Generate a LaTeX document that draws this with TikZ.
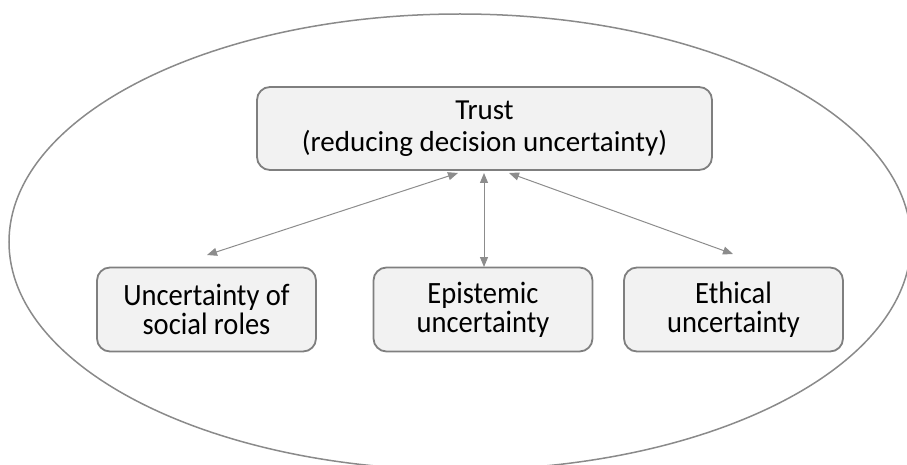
\documentclass[tikz,border=0pt]{standalone}
\usepackage{fontspec}
\setmainfont{Carlito}
\usetikzlibrary{arrows.meta}
\definecolor{boxfill}{HTML}{F2F2F2}
\definecolor{boxline}{HTML}{7F7F7F}
\definecolor{arrline}{HTML}{8C8C8C}
\definecolor{ovalline}{HTML}{8A8A8A}
\tikzset{
  topbox/.style={draw=boxline, line width=1.8pt, fill=boxfill, rounded corners=13pt,
    minimum width=455pt, minimum height=83pt, align=center, inner sep=0pt,
    font=\fontsize{29}{32}\selectfont},
  lowbox/.style={draw=boxline, line width=1.8pt, fill=boxfill, rounded corners=13pt,
    minimum width=219pt, minimum height=84pt, align=center, inner sep=0pt,
    font=\fontsize{31}{29}\selectfont},
  link/.style={draw=arrline, line width=1pt,
    {Triangle[length=10pt,width=8pt]}-{Triangle[length=10pt,width=8pt]}},
  oval/.style={draw=ovalline, line width=1.5pt}
}
\newcommand{\sq}[1]{\scalebox{0.92}[1]{#1}}
\begin{document}
\begin{tikzpicture}[x=1pt,y=-1pt]
\useasboundingbox (0,0) rectangle (907,465);
\begin{scope}
  \clip (0,0) rectangle (907,465);
  \draw[oval] (460,242) ellipse [x radius=451pt, y radius=228pt];
\end{scope}
\node[topbox] (trust) at (484.5,128.5) {Trust\\(reducing decision uncertainty)};
\node[lowbox] (roles) at (206.5,309.5) {\sq{Uncertainty of}\\\sq{social roles}};
\node[lowbox] (epis) at (483,309.5) {\sq{Epistemic}\\\sq{uncertainty}};
\node[lowbox] (ethic) at (733.5,309.5) {\sq{Ethical}\\\sq{uncertainty}};
\coordinate (t1) at (458,173);
\coordinate (t2) at (484,173);
\coordinate (t3) at (509,173);
\coordinate (b1) at (207,255);
\coordinate (b2) at (484,267);
\coordinate (b3) at (733,254);
\draw[link] (t1) -- (b1);
\draw[link] (t2) -- (b2);
\draw[link] (t3) -- (b3);
\end{tikzpicture}
\end{document}
